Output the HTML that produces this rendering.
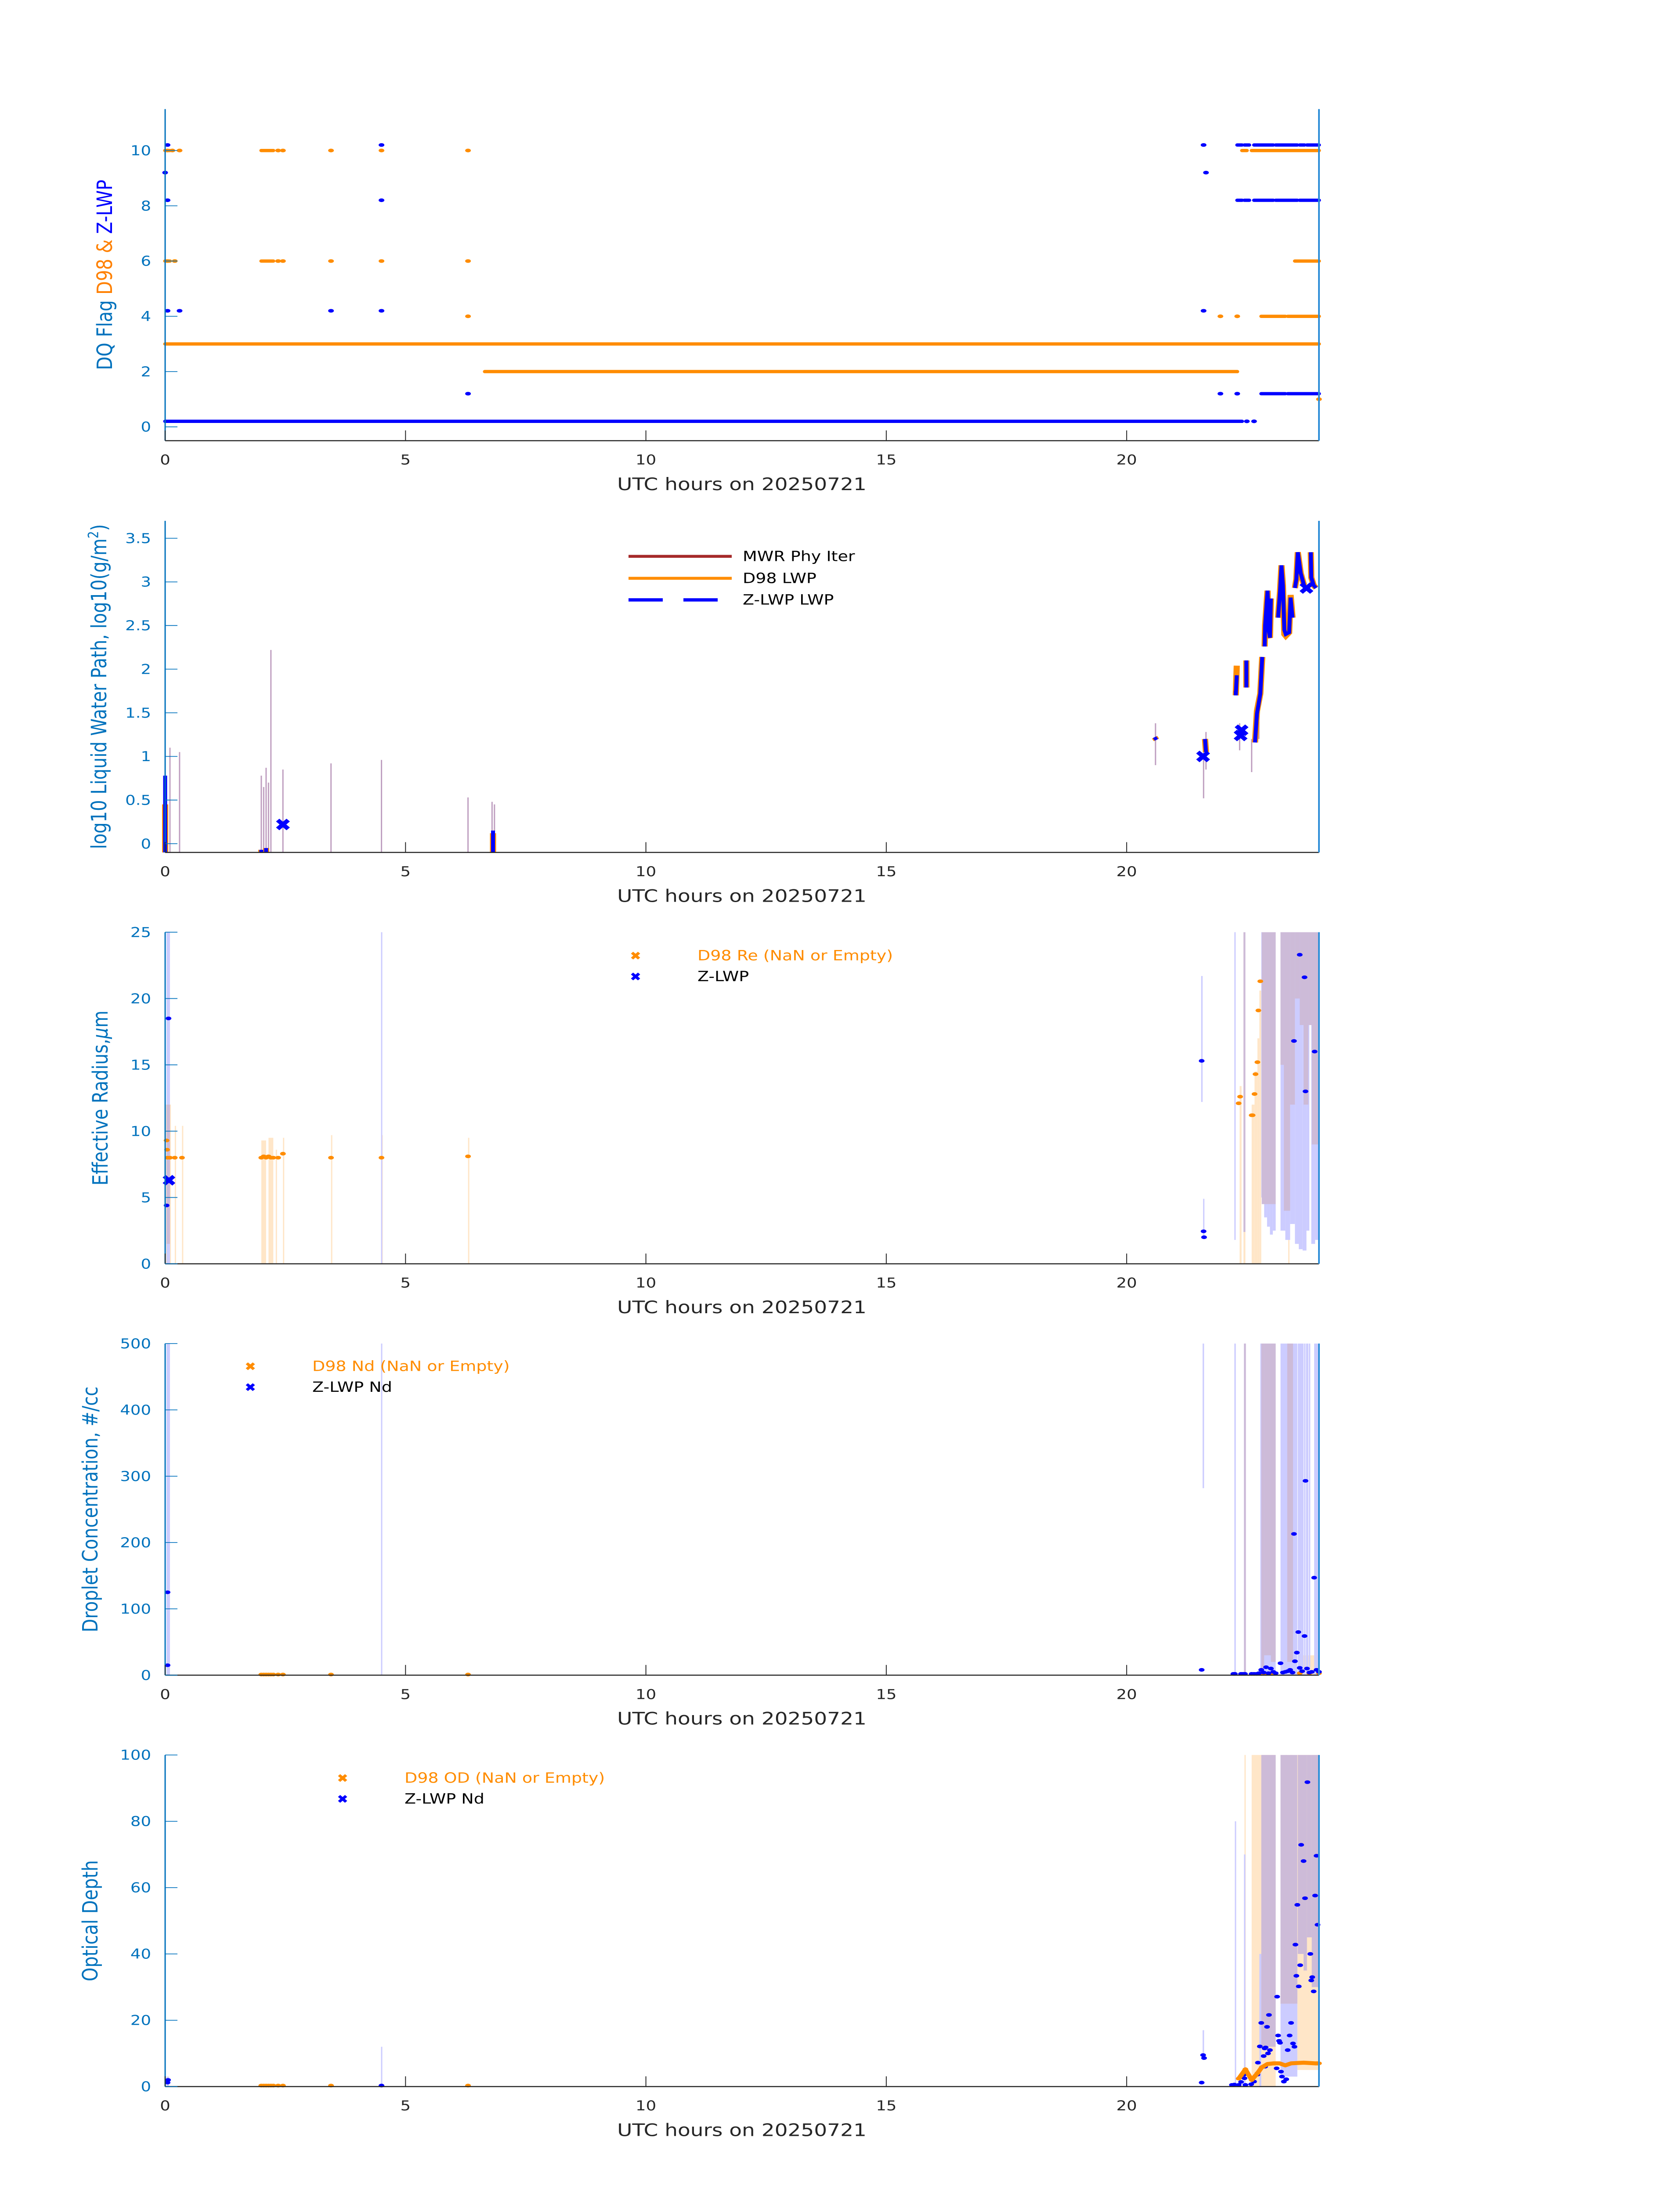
<!DOCTYPE html>
<html><head><meta charset="utf-8">
<style>
html,body{margin:0;padding:0;background:#fff;width:100vw;height:100vh;overflow:hidden;}
svg{display:block;width:100vw;height:100vh;font-family:"DejaVu Sans","Liberation Sans",sans-serif;}
</style></head>
<body>
<svg id="fig" xmlns="http://www.w3.org/2000/svg" viewBox="0 0 3825 6000" preserveAspectRatio="none">
<rect x="0" y="0" width="3825" height="6000" fill="#fff"/>
</svg>
<script>
// ---------- shared ----------
const xTicks = [0,5,10,15,20];
const xTickLabels = ["0","5","10","15","20"];
// ---------- panel 1: DQ flags ----------
const dqZDots = [[0.05,10.2],[4.5,10.2],[21.6,10.2],[0.0,9.2],[21.65,9.2],[0.05,8.2],[4.5,8.2],[0.05,4.2],[0.3,4.2],[3.45,4.2],[4.5,4.2],[21.6,4.2],[6.3,1.2],[21.95,1.2],[22.3,1.2],[22.5,0.2],[22.65,0.2]];
const dqZRuns = [[22.3,22.4,10.2],[22.45,22.55,10.2],[22.65,23.05,10.2],[23.1,23.55,10.2],[23.6,23.7,10.2],[23.75,24,10.2],[22.3,22.4,8.2],[22.45,22.55,8.2],[22.65,23.05,8.2],[23.1,23.55,8.2],[23.6,24,8.2],[22.8,23.3,1.2],[23.35,24,1.2],[0,22.4,0.2]];
const dqDDots = [[0.05,10],[0.15,10],[0.3,10],[2.35,10],[2.45,10],[3.45,10],[4.5,10],[6.3,10],[0.05,6],[0.2,6],[2.35,6],[2.45,6],[3.45,6],[4.5,6],[6.3,6],[6.3,4],[21.95,4],[22.3,4],[24,1]];
const dqDRuns = [[2.0,2.25,10],[22.4,22.5,10],[22.6,24,10],[0,0.1,10],[2.0,2.25,6],[0,0.1,6],[23.5,24,6],[22.8,23.3,4],[23.35,24,4],[0,24,3],[6.65,22.3,2]];
const dqYTicks = [0,2,4,6,8,10];
// ---------- panel 2: LWP ----------
const mwrT  = [0.0,0.1,0.3,2.0,2.05,2.1,2.15,2.2,2.45,3.45,4.5,6.3,6.8,6.85,20.6,21.6,21.65,22.35,22.6,22.75];
const mwrLo = [-0.1,-0.1,-0.1,-0.1,-0.1,-0.1,-0.1,-0.1,-0.1,-0.1,-0.1,-0.1,-0.1,-0.1,0.9,0.52,0.85,1.07,0.82,1.2];
const mwrHi = [1.25,1.1,1.05,0.78,0.65,0.87,0.7,2.22,0.85,0.92,0.96,0.53,0.48,0.45,1.38,1.2,1.28,1.38,1.2,1.4];
const lwpT = [0.0,0.0,null,2.0,2.0,null,2.1,2.1,null,6.82,6.82,null,20.58,20.62,null,21.63,21.65,null,22.27,22.27,22.29,null,22.49,22.49,null,22.67,22.71,22.78,22.82,null,22.87,22.88,22.93,22.96,22.98,23.0,null,23.15,23.19,23.22,23.25,23.28,23.31,23.38,23.41,23.45,null,23.5,23.53,23.56,23.62,23.69,null,23.83,23.84,23.89,23.94];
const lwpZ = [-0.1,0.78,null,-0.1,-0.07,null,-0.1,-0.05,null,-0.1,0.15,null,1.22,1.19,null,1.2,1.05,null,1.75,1.7,1.93,null,1.79,2.1,null,1.16,1.49,1.72,2.14,null,2.26,2.5,2.9,2.43,2.36,2.81,null,2.59,2.89,3.19,2.96,2.45,2.4,2.42,2.82,2.59,null,2.93,3.03,3.34,3.1,2.96,null,3.34,3.05,2.96,2.93];
const lwpD = [-0.1,0.45,null,-0.1,-0.07,null,-0.1,-0.05,null,-0.1,0.12,null,1.22,1.19,null,1.2,1.05,null,1.7,1.7,2.04,null,1.79,2.1,null,1.16,1.52,1.72,2.14,null,2.26,2.5,2.9,2.38,2.36,2.81,null,2.59,2.89,3.19,2.96,2.4,2.38,2.42,2.85,2.59,null,2.93,3.03,3.34,3.1,2.96,null,3.34,3.05,2.96,2.93];
const lwpXT = [2.45,21.59,22.39,22.37,23.74];
const lwpXV = [0.22,1.0,1.30,1.24,2.93];
const lwpYTicks = [0,0.5,1,1.5,2,2.5,3,3.5];
const lwpYLabels = ["0","0.5","1","1.5","2","2.5","3","3.5"];
// ---------- panel 3: Re ----------
const reOrangeBars = [[0.0,0.12,0,12],[0.2,0.22,0,10.4],[0.35,0.37,0,10.4],[2.0,2.1,0,9.3],[2.15,2.25,0,9.5],[2.3,2.32,0,8.6],[2.45,2.47,0,9.5],[3.45,3.47,0,9.7],[4.5,4.52,0,9.7],[6.3,6.32,0,9.5],[22.35,22.39,0,13.4],[22.43,22.47,0,25],[22.6,22.66,0,12],[22.66,22.72,0,14.5],[22.72,22.76,0,17],[22.76,22.8,0,20.6],[23.36,23.38,0,25],[23.9,23.93,2,25]];
const reBlueBars = [[0.03,0.1,0,25],[4.49,4.51,0,25],[21.55,21.58,12.2,21.7],[21.59,21.61,1.9,4.9],[22.24,22.26,1.8,25],[22.8,22.86,5,25],[22.86,22.92,3.5,25],[22.92,22.98,2.8,25],[22.98,23.04,2.2,25],[23.04,23.1,2.5,25],[23.2,23.3,2.5,25],[23.3,23.4,1.8,25],[23.4,23.5,3,25],[23.5,23.58,1.5,25],[23.58,23.66,1.1,25],[23.66,23.74,1.0,25],[23.74,23.8,2.5,25],[23.84,23.92,1.5,25],[23.92,23.99,1.8,25]];
const rePurpleBars = [[0.03,0.1,1.5,12],[22.43,22.47,2.4,25],[22.81,23.1,4.5,25],[23.2,23.27,15,25],[23.27,23.4,4,25],[23.4,23.5,12,25],[23.5,23.6,20,25],[23.6,23.68,18,25],[23.68,23.78,12,25],[23.78,23.85,18,25],[23.85,23.99,9,25]];
const reDT = [0.03,0.04,0.05,0.1,0.2,0.35,2.0,2.05,2.1,2.15,2.2,2.25,2.35,2.45,3.45,4.5,6.3,22.33,22.36,22.6,22.62,22.66,22.68,22.72,22.74,22.78];
const reDV = [9.3,8.6,8,8,8,8,8,8.1,8,8.1,8,8,8,8.3,8,8,8.1,12.1,12.6,11.2,11.2,12.8,14.3,15.2,19.1,21.3];
const reZT = [0.07,0.03,21.56,21.6,21.61,23.48,23.6,23.7,23.72,23.91];
const reZV = [18.5,4.4,15.3,2.45,2.0,16.8,23.3,21.6,13.0,16.0];
const reXT = [0.08]; const reXV = [6.3];
const reYTicks = [0,5,10,15,20,25];
// ---------- panel 4: Nd ----------
const ndBlueBars = [[0.03,0.1,0,500],[4.49,4.51,0,500],[21.58,21.61,282,500],[22.24,22.27,0,500],[22.44,22.48,0,500],[22.78,23.1,0,500],[23.2,23.55,0,500],[23.56,23.68,0,500],[23.69,23.72,0,500],[23.73,23.78,0,500],[23.79,23.82,0,500],[23.9,23.98,0,500],[23.99,24,0,500]];
const ndPurpleBars = [[22.44,22.48,0,500],[22.8,22.86,10,500],[22.86,23.0,30,500],[23.0,23.1,20,500],[23.34,23.46,20,500]];
const ndOrangeBars = [[22.8,23.1,0,10],[23.6,24,0,30]];
const ndZT = [0.05,0.05,21.56,22.22,22.25,22.38,22.42,22.46,22.6,22.65,22.7,22.75,22.8,22.85,22.9,22.95,23.0,23.05,23.1,23.2,23.25,23.3,23.35,23.4,23.45,23.48,23.5,23.54,23.57,23.6,23.65,23.7,23.72,23.75,23.8,23.85,23.9,23.95,24.0];
const ndZV = [125,15,8,2,2,2,2,2,2,2,2,3,8,4,12,3,10,5,3,18,4,5,6,8,4,213,21,34,65,11,6,59,293,10,4,5,147,8,5];
const ndDT = [2.0,2.05,2.1,2.15,2.2,2.25,2.35,2.45,3.45,6.3,22.8,22.9,23.0,23.6,23.8,24.0];
const ndDV = [1,1,1,1,1,1,1,1,1,1,2,2,2,3,3,3];
const ndYTicks = [0,100,200,300,400,500];
// ---------- panel 5: OD ----------
const odOrangeBars = [[22.45,22.47,0,100],[22.6,22.8,0,100],[22.8,23.1,0,100],[23.3,23.33,10,100],[23.4,23.45,10,100],[23.55,24,5,100]];
const odBlueBars = [[0.03,0.08,0,3],[4.49,4.51,0,12],[21.58,21.61,8,17],[22.25,22.27,0,80],[22.44,22.47,0,70],[22.76,22.8,0,40],[23.2,23.55,3,45]];
const odPurpleBars = [[22.8,23.1,12,100],[23.2,23.55,25,100],[23.56,23.68,40,100],[23.68,23.75,35,100],[23.75,23.85,45,100],[23.85,23.99,30,100]];
const odDT = [2.0,2.05,2.1,2.15,2.2,2.25,2.35,2.45,3.45,6.3,22.33,22.47,22.6,22.72,22.81,22.93,23.06,23.18,23.3,23.42,23.55,23.68,23.8,23.92,24.0];
const odDV = [0.3,0.3,0.3,0.3,0.3,0.3,0.3,0.3,0.3,0.3,2.4,5.2,2.0,4.0,5.8,6.8,7.0,7.0,6.4,7.0,7.1,7.2,7.1,7.0,7.0];
const odZT = [0.05,0.06,4.5,21.56,21.59,21.61,22.19,22.24,22.33,22.38,22.44,22.45,22.47,22.59,22.65,22.72,22.73,22.77,22.8,22.85,22.88,22.87,22.89,22.92,22.94,22.96,22.98,23.12,23.13,23.15,23.17,23.19,23.21,23.23,23.27,23.32,23.35,23.39,23.42,23.46,23.49,23.51,23.53,23.55,23.58,23.61,23.63,23.68,23.71,23.76,23.82,23.84,23.86,23.89,23.92,23.95,23.97];
const odZV = [1.2,2.0,0.3,1.2,9.5,8.6,0.5,0.6,0.5,1.4,3.6,2.5,0.5,0.7,1.5,3.6,7.2,12.1,19.2,9.2,6.0,11.5,11.8,18.0,10,21.6,11,5.5,27.1,15.4,13.8,13.2,4.5,3,1.5,2.2,11,15.4,19.2,13,12,42.8,33.4,54.8,30.2,36.6,72.9,68,56.8,91.8,40,32,33,28.7,57.6,69.6,48.8];
const odYTicks = [0,20,40,60,80,100];

// ---------- drawing ----------
const NS = "http://www.w3.org/2000/svg";
const svg = document.getElementById("fig");
const PX0 = 376, PX1 = 3003, PH = 906;
const TOPS = [298,1423,2547,3671,4795];
const BLUE = "#0000FF", ORANGE = "#FF8C00", AXB = "#0072BD";
function X(t){ return PX0 + t*(PX1-PX0)/24; }
function mkY(p, lo, hi){ const top = TOPS[p]; return v => top + PH*(hi - v)/(hi - lo); }
function el(tag, attrs, parent){
  const e = document.createElementNS(NS, tag);
  for (const k in attrs) e.setAttribute(k, attrs[k]);
  (parent || svg).appendChild(e);
  return e;
}
function group(name){
  const g = el("g", {});
  
  
  return g;
}
function bars(g, list, Y, color){
  list.forEach(b => {
    const x0 = X(b[0]), x1 = Math.max(X(b[1]), x0+3);
    const r = el("rect", {x:x0, y:Y(b[3]), width:x1-x0, height:Y(b[2])-Y(b[3]), fill:color}, g);
    
    
  });
}
function dots(g, ts, vs, Y, color, r){
  ts.forEach((t,i) => {
    const c = el("ellipse", {cx:X(t), cy:Y(vs[i]), rx:r*1.3, ry:r, fill:color}, g);
    
    
  });
}
function xmark(g, cx, cy, color, s){
  const p = el("path", {d:`M${cx-s},${cy-s}L${cx+s},${cy+s}M${cx-s},${cy+s}L${cx+s},${cy-s}`, stroke:color, "stroke-width":s*0.9, fill:"none"}, g);
  
  
}
function axes(p, Y, yTicks, yLabels){
  const top = TOPS[p], bot = top + PH;
  const g = group("axes-panel-" + (p+1));
  el("line", {x1:PX0, y1:bot, x2:PX1, y2:bot, stroke:"#262626", "stroke-width":3}, g);
  el("line", {x1:PX0, y1:top, x2:PX0, y2:bot, stroke:AXB, "stroke-width":3}, g);
  el("line", {x1:PX1, y1:top, x2:PX1, y2:bot, stroke:"#2f8fd8", "stroke-width":4}, g);
  xTicks.forEach((t,i) => {
    el("line", {x1:X(t), y1:bot, x2:X(t), y2:bot-28, stroke:"#262626", "stroke-width":2}, g);
    const tx = el("text", {x:X(t), y:bot+65, "font-size":37, fill:"#262626", "text-anchor":"middle"}, g);
    tx.textContent = xTickLabels[i];
    
    
  });
  yTicks.forEach((v,i) => {
    el("line", {x1:PX0, y1:Y(v), x2:PX0+28, y2:Y(v), stroke:AXB, "stroke-width":2}, g);
    const tx = el("text", {x:344, y:Y(v)+13, "font-size":37, fill:AXB, "text-anchor":"end"}, g);
    tx.textContent = yLabels ? yLabels[i] : String(v);
    
    
  });
  const xl = el("text", {x:1689, y:bot+135, "font-size":47, fill:"#262626", "text-anchor":"middle"}, g);
  xl.textContent = "UTC hours on 20250721";
  
  
}
function ylabel(p, x, parts){
  const cy = TOPS[p] + PH/2;
  const t = el("text", {x:x, y:cy, "font-size":48, "text-anchor":"middle", transform:`rotate(-90 ${x} ${cy})`});
  
  
  parts.forEach(pt => {
    const s = el("tspan", {fill:pt[1]}, t);
    if (pt[2]) for (const k in pt[2]) s.setAttribute(k, pt[2][k]);
    s.textContent = pt[0];
  });
}
function legendText(g, x, y, txt, color){
  const t = el("text", {x:x, y:y+13, "font-size":38, fill:color}, g);
  t.textContent = txt;
  
  
}

// Panel 1
(function(){
  const Y = mkY(0, -0.5, 11.5);
  const g = group("dq-flag-series");
  dqDRuns.forEach(r => { const l = el("line", {x1:X(r[0]), y1:Y(r[2]), x2:X(r[1]), y2:Y(r[2]), stroke:ORANGE, "stroke-width":9, "stroke-linecap":"round"}, g);
      });
  dqZRuns.forEach(r => { const l = el("line", {x1:X(r[0]), y1:Y(r[2]), x2:X(r[1]), y2:Y(r[2]), stroke:BLUE, "stroke-width":9, "stroke-linecap":"round"}, g);
      });
  dots(g, dqDDots.map(d=>d[0]), dqDDots.map(d=>d[1]), Y, ORANGE, 5);
  dots(g, dqZDots.map(d=>d[0]), dqZDots.map(d=>d[1]), Y, BLUE, 5);
  axes(0, Y, dqYTicks, null);
  ylabel(0, 255, [["DQ Flag ", AXB],[" D98 & ", "#FF8000"],[" Z-LWP", BLUE]]);
})();

// Panel 2
(function(){
  const Y = mkY(1, -0.1, 3.7);
  const g = group("lwp-series");
  mwrT.forEach((t,i) => { const l = el("line", {x1:X(t), y1:Y(mwrLo[i]), x2:X(t), y2:Y(mwrHi[i]), stroke:"#bf9fc0", "stroke-width":3}, g);
      });
  function poly(vals, color, w, name){
    let seg = [];
    const flush = () => { if (seg.length) { const pl = el("polyline", {points:seg.join(" "), fill:"none", stroke:color, "stroke-width":w, "stroke-linejoin":"miter"}, g);
        } seg = []; };
    lwpT.forEach((t,i) => { if (t === null) flush(); else seg.push(X(t)+","+Y(vals[i])); });
    flush();
  }
  poly(lwpD, ORANGE, 14, "d98-lwp-line");
  poly(lwpZ, BLUE, 9, "zlwp-lwp-line");
  lwpXT.forEach((t,i) => xmark(g, X(t), Y(lwpXV[i]), BLUE, 12));
  axes(1, Y, lwpYTicks, lwpYLabels);
  ylabel(1, 242, [["log10 Liquid Water Path, log10(g/m", AXB],["2", AXB, {"baseline-shift":"super","font-size":32}],[")", AXB]]);
  const lg = group("legend-lwp");
  const rows = [1520,1580,1639];
  let l = el("line", {x1:1431, y1:rows[0], x2:1666, y2:rows[0], stroke:"#A52A2A", "stroke-width":8}, lg);
   
  l = el("line", {x1:1431, y1:rows[1], x2:1666, y2:rows[1], stroke:ORANGE, "stroke-width":8}, lg);
   
  l = el("line", {x1:1431, y1:rows[2], x2:1666, y2:rows[2], stroke:BLUE, "stroke-width":9, "stroke-dasharray":"78 47"}, lg);
   
  legendText(lg, 1691, rows[0], "MWR Phy Iter", "#000");
  legendText(lg, 1691, rows[1], "D98 LWP", "#000");
  legendText(lg, 1691, rows[2], "Z-LWP LWP", "#000");
})();

function markerPanel(p, lo, hi, oBars, bBars, pBars, dT, dV, zT, zV, yTicks, ylab, ylx, lgx, lgy, lt1, lt2){
  const Y = mkY(p, lo, hi);
  const g = group("series-panel-" + (p+1));
  bars(g, oBars, Y, "#FFE6C8");
  bars(g, bBars, Y, "#CCCCFF");
  bars(g, pBars, Y, "#CDBBD8");
  dots(g, dT, dV, Y, ORANGE, 5);
  dots(g, zT, zV, Y, BLUE, 5);
  axes(p, Y, yTicks, null);
  ylabel(p, ylx, ylab);
  const lg = group("legend-panel-" + (p+1));
  xmark(lg, lgx, lgy, ORANGE, 8);
  xmark(lg, lgx, lgy+57, BLUE, 8);
  legendText(lg, lgx+141, lgy, lt1, ORANGE);
  legendText(lg, lgx+141, lgy+57, lt2, "#000");
  return {Y, g};
}
// Panel 3
(function(){
  const r = markerPanel(2, 0, 25, reOrangeBars, reBlueBars, rePurpleBars, reDT, reDV, reZT, reZV, reYTicks,
    [["Effective Radius,", AXB],["μ", AXB, {"font-style":"italic"}],["m", AXB]], 245, 1447, 2611, "D98 Re (NaN or Empty)", "Z-LWP");
  reXT.forEach((t,i) => xmark(r.g, X(t), r.Y(reXV[i]), BLUE, 11));
})();
// Panel 4
(function(){
  markerPanel(3, 0, 500, ndOrangeBars, ndBlueBars, ndPurpleBars, ndDT, ndDV, ndZT, ndZV, ndYTicks,
    [["Droplet Concentration, #/cc", AXB]], 222, 570, 3733, "D98 Nd (NaN or Empty)", "Z-LWP Nd");
})();
// Panel 5
(function(){
  const Y = mkY(4, 0, 100);
  const r = markerPanel(4, 0, 100, odOrangeBars, odBlueBars, odPurpleBars, [], [], odZT, odZV, odYTicks,
    [["Optical Depth", AXB]], 222, 780, 4858, "D98 OD (NaN or Empty)", "Z-LWP Nd");
  const pts = odDT.map((t,i) => X(t)+","+Y(odDV[i]));
  const pl = el("polyline", {points:pts.slice(10).join(" "), fill:"none", stroke:ORANGE, "stroke-width":11, "stroke-linejoin":"round"}, r.g);
  
  
  dots(r.g, odDT, odDV, Y, ORANGE, 5);
})();
</script>
</body></html>
